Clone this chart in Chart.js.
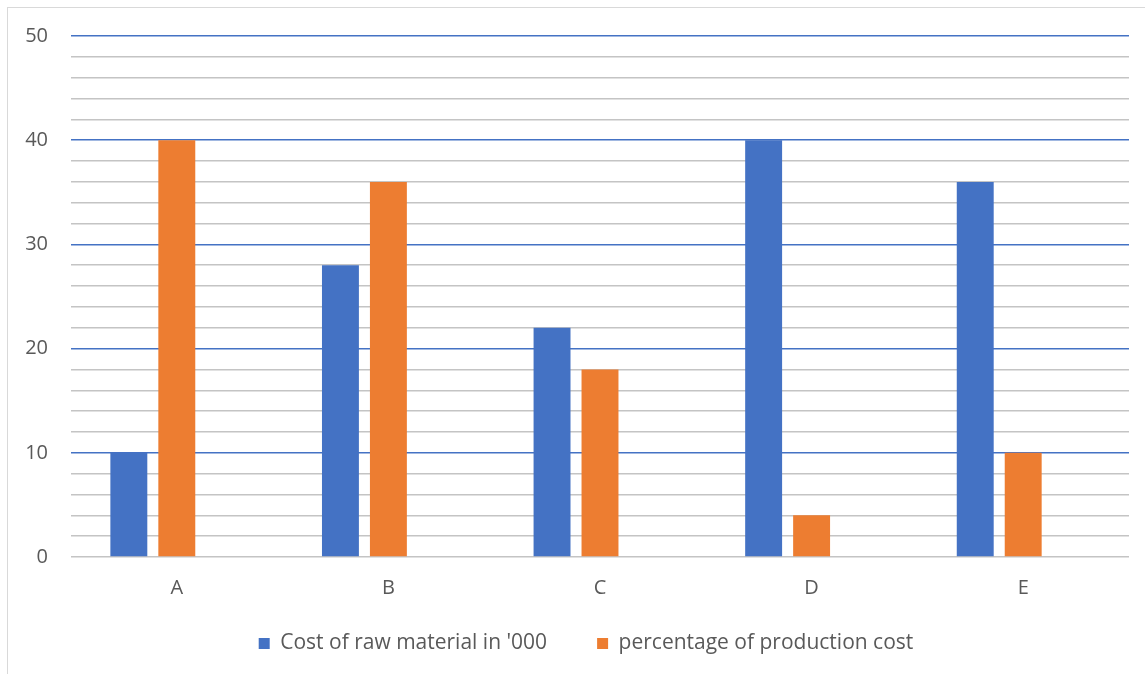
<!DOCTYPE html>
<html>
<head>
<meta charset="utf-8">
<script src="https://cdn.jsdelivr.net/npm/chart.js@4.4.0/dist/chart.umd.min.js"></script>
<style>
  html, body { margin:0; padding:0; background:#fff; overflow:hidden; }
  #frame { position:absolute; left:7px; top:7px; width:1200px; height:700px; border:1px solid #d9d9d9; }
  #chart { position:absolute; left:0; top:0; }
</style>
</head>
<body>
<div id="frame"></div>
<canvas id="chart" width="1145" height="674"></canvas>
<script>
// datos
const categories = ['A', 'B', 'C', 'D', 'E'];
const rawCost    = [10, 28, 22, 40, 36];
const prodPct    = [40, 36, 18, 4, 10];
const emptySeries = [null, null, null, null, null]; // tercera serie vacía (deja el hueco a la derecha)
const seriesNames = ["Cost of raw material in '000", 'percentage of production cost', 'Series3'];

const BLUE = '#4472C4', ORANGE = '#ED7D31', TEXT = '#595959';
const FONT = '"Open Sans", sans-serif';

const barCommon = { categoryPercentage:0.68, barPercentage:0.77, borderWidth:0 };

// mueve la leyenda: centrada algo a la derecha y más arriba, como en Excel
const legendShift = {
  id:'legendShift',
  afterLayout(chart){
    const lg = chart.legend;
    const dx = 18, dy = -36;
    lg.left += dx; lg.right += dx;
    lg.top += dy; lg.bottom += dy;
  }
};

new Chart(document.getElementById('chart'), {
  type:'bar',
  data:{
    labels:categories,
    datasets:[
      { label:seriesNames[0], data:rawCost, backgroundColor:BLUE, ...barCommon },
      { label:seriesNames[1], data:prodPct, backgroundColor:ORANGE, ...barCommon },
      { label:seriesNames[2], data:emptySeries, backgroundColor:'#A5A5A5', ...barCommon }
    ]
  },
  plugins:[legendShift],
  options:{
    responsive:false, animation:false,
    layout:{ padding:{ left:7, right:16, top:36, bottom:-26 } },
    plugins:{
      tooltip:{ enabled:false },
      legend:{
        position:'bottom',
        labels:{
          filter:(item)=> item.datasetIndex < 2,
          boxWidth:11, boxHeight:11, padding:50,
          color:TEXT, font:{ family:FONT, size:21, lineHeight:1 }
        }
      }
    },
    scales:{
      x:{
        grid:{ display:false, drawTicks:false },
        border:{ display:false },
        ticks:{ color:TEXT, font:{ family:FONT, size:20, lineHeight:1 }, padding:21 }
      },
      y:{
        min:0, max:50,
        border:{ display:false },
        grid:{
          drawTicks:false,
          lineWidth:1.5,
          color:(c)=> (c.tick && c.tick.value % 10 === 0 && c.tick.value !== 0) ? BLUE : '#c4c4c4'
        },
        ticks:{
          stepSize:2, maxTicksLimit:30, autoSkip:false,
          color:TEXT, font:{ family:FONT, size:20 }, padding:23,
          callback:(v)=> v % 10 === 0 ? v : ''
        },
        afterFit:(s)=>{ s.width = 64; }
      }
    }
  }
});
</script>
</body>
</html>
